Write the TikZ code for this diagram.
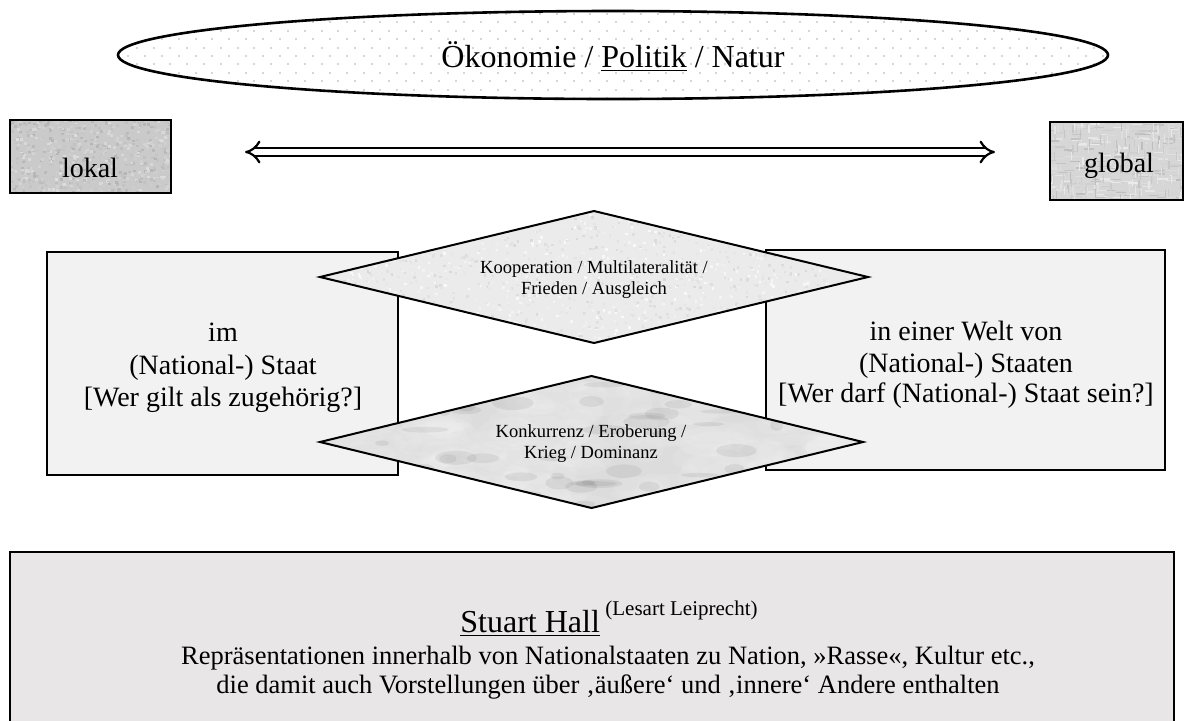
\documentclass[tikz,border=0pt]{standalone}
\usepackage{fontspec}
\setmainfont{Liberation Serif}
\usetikzlibrary{shapes.geometric,arrows.meta}
\definecolor{boxgray}{HTML}{F2F2F2}
\definecolor{hallgray}{HTML}{E8E6E7}
\definecolor{lokalgray}{HTML}{CACACA}
\definecolor{globalgray}{HTML}{D6D6D6}
\definecolor{koopgray}{HTML}{EBEBEB}
\definecolor{konkgray}{HTML}{DCDCDC}
\definecolor{dotgray}{HTML}{D6D6D6}
\tikzset{
  box/.style={draw=black, line width=0.9pt, inner sep=0pt, outer sep=0pt},
  boxline/.style={draw=black, line width=0.9pt},
  lbl/.style={anchor=base, inner sep=0pt, outer sep=0pt},
  txtbig/.style={font=\fontsize{16}{19}\selectfont},
  txtbox/.style={font=\fontsize{14}{16}\selectfont},
  txtsmall/.style={font=\fontsize{9.25}{11}\selectfont},
  txtbody/.style={font=\fontsize{13.25}{15}\selectfont},
  diam/.style={diamond, inner sep=0pt, outer sep=0pt},
  diamline/.style={draw=black, line width=1pt, line join=miter},
}
\pgfmathsetseed{42}
\begin{document}
\begin{tikzpicture}[x=0.5pt,y=-0.5pt]
\useasboundingbox (0,0) rectangle (1184,720);

% top ellipse
\node[ellipse, fill=white, minimum width=495pt, minimum height=44pt, inner sep=0pt, outer sep=0pt] (oek) at (613,55) {};
\begin{scope}
  \clip (oek.center) ellipse [x radius=247.5pt, y radius=22pt];
  \foreach \r in {0,...,10}{
    \pgfmathsetmacro\yy{13+\r*8.4}
    \pgfmathsetmacro\off{mod(\r,2)*8.4}
    \foreach \c in {0,...,59}{
      \fill[dotgray] (119+\off+\c*16.8,\yy) rectangle ++(2,2);
    }
  }
\end{scope}
\draw[line width=1.3pt] (oek.center) ellipse [x radius=247.5pt, y radius=22pt];
\node[lbl, txtbig] (oektext) at (613,67) {Ökonomie / \underline{Politik} / Natur};

% lokal / global
\node[inner sep=0pt, outer sep=0pt, fill=lokalgray, minimum width=80.5pt, minimum height=36.5pt] (lokal) at (90.5,156.5) {};
\begin{scope}
  \clip (lokal.north west) rectangle (lokal.south east);
  \foreach \k in {1,...,700}{\pgfmathsetmacro\px{8+rnd*163}\pgfmathsetmacro\py{118+rnd*75}\pgfmathsetmacro\sh{13+rnd*16}
    \fill[black!\sh] (\px,\py) rectangle ++(3,2.5);}
\end{scope}
\draw[boxline] (lokal.north west) rectangle (lokal.south east);
\node[lbl, txtbox] (lokaltext) at (90,177) {lokal};

\node[inner sep=0pt, outer sep=0pt, fill=globalgray, minimum width=66.5pt, minimum height=39pt] (global) at (1116.5,161) {};
\begin{scope}
  \clip (global.north west) rectangle (global.south east);
  \foreach \k in {1,...,260}{\pgfmathsetmacro\px{1045+rnd*140}\pgfmathsetmacro\py{118+rnd*84}\pgfmathsetmacro\sh{8+rnd*18}
    \fill[black!\sh] (\px,\py) rectangle ++(10,1.3);}
  \foreach \k in {1,...,200}{\pgfmathsetmacro\px{1045+rnd*140}\pgfmathsetmacro\py{118+rnd*84}\pgfmathsetmacro\sh{8+rnd*18}
    \fill[black!\sh] (\px,\py) rectangle ++(1.3,8);}
\end{scope}
\draw[boxline] (global.north west) rectangle (global.south east);
\node[lbl, txtbox] (globaltext) at (1119,172) {global};

\coordinate (arrL) at (245,152);
\coordinate (arrR) at (995,152);
\draw[double, line width=1.1pt, double distance=2.8pt, {Implies}-{Implies}] (arrL) -- (arrR);

% state boxes
\node[box, fill=boxgray, minimum width=175.5pt, minimum height=111.5pt] (lstaat) at (222.5,363.5) {};
\node[lbl, txtbox] (lt1) at (223,341) {im};
\node[lbl, txtbox] (lt2) at (223,374) {(National-) Staat};
\node[lbl, txtbox] (lt3) at (223,406) {[Wer gilt als zugehörig?]};

\node[box, fill=boxgray, minimum width=199.5pt, minimum height=110pt] (rstaat) at (965.5,360) {};
\node[lbl, txtbox] (rt1) at (966,340) {in einer Welt von};
\node[lbl, txtbox] (rt2) at (966,372) {(National-) Staaten};
\node[lbl, txtbox] (rt3) at (966,402) {[Wer darf (National-) Staat sein?]};

% upper diamond (granite)
\node[diam, fill=koopgray, minimum width=274pt, minimum height=66pt] (koop) at (594,277) {};
\begin{scope}
  \clip (koop.north) -- (koop.east) -- (koop.south) -- (koop.west) -- cycle;
  \foreach \k in {1,...,1800}{\pgfmathsetmacro\px{318+rnd*552}\pgfmathsetmacro\py{209+rnd*136}\pgfmathsetmacro\sh{2+rnd*13}
    \fill[black!\sh] (\px,\py) rectangle ++(2.5,2.5);}
\end{scope}
\draw[diamline] (koop.north) -- (koop.east) -- (koop.south) -- (koop.west) -- cycle;
\node[lbl, txtsmall] (koop1) at (594,273) {Kooperation / Multilateralität /};
\node[lbl, txtsmall] (koop2) at (594,294) {Frieden / Ausgleich};

% lower diamond (marble)
\node[diam, fill=konkgray, minimum width=271.5pt, minimum height=66pt] (konk) at (591.5,442) {};
\begin{scope}
  \clip (konk.north) -- (konk.east) -- (konk.south) -- (konk.west) -- cycle;
  \foreach \k in {1,...,220}{\pgfmathsetmacro\px{318+rnd*548}\pgfmathsetmacro\py{374+rnd*136}
    \pgfmathsetmacro\rx{10+rnd*28}\pgfmathsetmacro\ry{5+rnd*12}
    \fill[white, opacity=0.09] (\px,\py) ellipse [x radius=\rx*0.5pt, y radius=\ry*0.5pt];}
  \foreach \k in {1,...,60}{\pgfmathsetmacro\px{318+rnd*548}\pgfmathsetmacro\py{374+rnd*136}
    \pgfmathsetmacro\rx{6+rnd*18}\pgfmathsetmacro\ry{2+rnd*5}
    \fill[black, opacity=0.06] (\px,\py) ellipse [x radius=\rx*0.5pt, y radius=\ry*0.5pt];}
\end{scope}
\draw[diamline] (konk.north) -- (konk.east) -- (konk.south) -- (konk.west) -- cycle;
\node[lbl, txtsmall] (konk1) at (591,437) {Konkurrenz / Eroberung /};
\node[lbl, txtsmall] (konk2) at (591,458) {Krieg / Dominanz};

% bottom box
\node[box, fill=hallgray, minimum width=582pt, minimum height=85pt] (hall) at (592,637) {};
\node[anchor=base west, inner sep=0pt, txtbig] (hallname) at (460,632) {\underline{Stuart Hall}};
\node[anchor=base west, inner sep=0pt, font=\fontsize{10.5}{12}\selectfont] (lesart) at (605,615) {(Lesart Leiprecht)};
\node[lbl, txtbody] (rep1) at (608,664) {Repräsentationen innerhalb von Nationalstaaten zu Nation, »Rasse«, Kultur etc.,};
\node[lbl, txtbody] (rep2) at (608,693) {die damit auch Vorstellungen über ‚äußere‘ und ‚innere‘ Andere enthalten};
\end{tikzpicture}
\end{document}
